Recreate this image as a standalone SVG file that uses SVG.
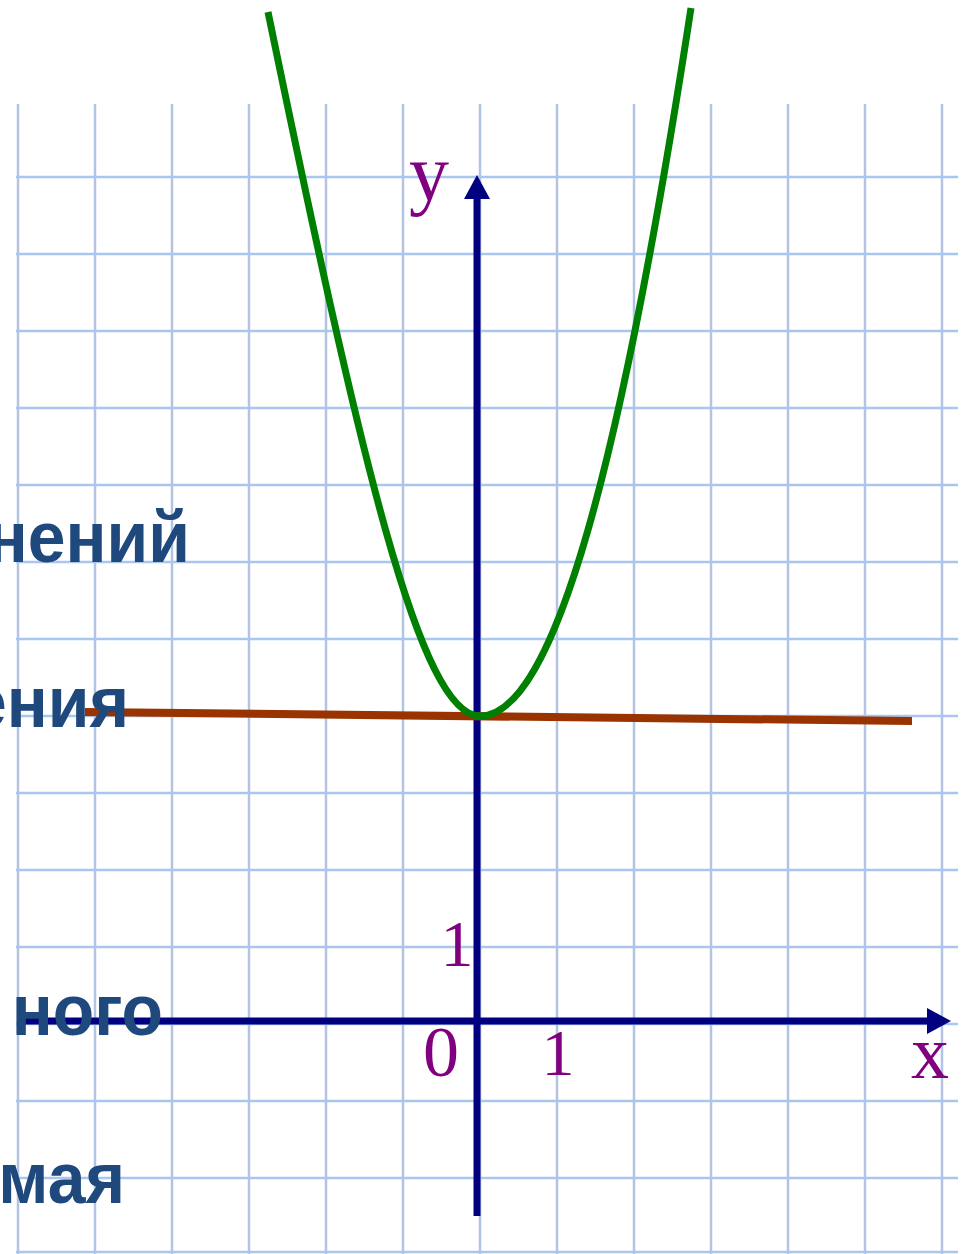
<svg xmlns="http://www.w3.org/2000/svg" width="961" height="1254" viewBox="0 0 961 1254">
<style>
.gv{stroke:#b3c3e4;stroke-width:2.5}
.gh{stroke:#a9c6f0;stroke-width:2.5}
.ax{stroke:#000080;stroke-width:7;fill:none}
.lbl{font-family:"Liberation Serif",serif;fill:#800080;text-anchor:middle}
.txt{font-family:"Liberation Sans",Arial,sans-serif;font-weight:bold;fill:#1F497D;text-anchor:end;font-size:73px}
</style>
<rect width="961" height="1254" fill="#ffffff"/>
<g id="grid">
<g class="gv">
<line x1="18" y1="104" x2="18" y2="1254"/>
<line x1="95" y1="104" x2="95" y2="1254"/>
<line x1="172" y1="104" x2="172" y2="1254"/>
<line x1="249" y1="104" x2="249" y2="1254"/>
<line x1="326" y1="104" x2="326" y2="1254"/>
<line x1="403" y1="104" x2="403" y2="1254"/>
<line x1="480" y1="104" x2="480" y2="1254"/>
<line x1="557" y1="104" x2="557" y2="1254"/>
<line x1="634" y1="104" x2="634" y2="1254"/>
<line x1="711" y1="104" x2="711" y2="1254"/>
<line x1="788" y1="104" x2="788" y2="1254"/>
<line x1="865" y1="104" x2="865" y2="1254"/>
<line x1="942" y1="104" x2="942" y2="1254"/>
</g>
<g class="gh">
<line x1="16" y1="177" x2="958" y2="177"/>
<line x1="16" y1="254" x2="958" y2="254"/>
<line x1="16" y1="331" x2="958" y2="331"/>
<line x1="16" y1="408" x2="958" y2="408"/>
<line x1="16" y1="485" x2="958" y2="485"/>
<line x1="16" y1="562" x2="958" y2="562"/>
<line x1="16" y1="639" x2="958" y2="639"/>
<line x1="16" y1="716" x2="958" y2="716"/>
<line x1="16" y1="793" x2="958" y2="793"/>
<line x1="16" y1="870" x2="958" y2="870"/>
<line x1="16" y1="947" x2="958" y2="947"/>
<line x1="16" y1="1024" x2="958" y2="1024"/>
<line x1="16" y1="1101" x2="958" y2="1101"/>
<line x1="16" y1="1178" x2="958" y2="1178"/>
<line x1="16" y1="1252" x2="958" y2="1252"/>
</g>
</g>
<g id="connectors">
<g id="y-axis">
<line class="ax" x1="477" y1="1216" x2="477" y2="196"/>
<polygon points="477,175 464,199 490,199" fill="#000080"/>
</g>
<g id="x-axis">
<line class="ax" x1="20" y1="1021" x2="930" y2="1021"/>
<polygon points="951,1021 927,1008 927,1034" fill="#000080"/>
</g>
<g id="tangent">
<line x1="85" y1="712" x2="912" y2="721" stroke="#993300" stroke-width="8"/>
</g>
<g id="parabola">
<path d="M268,12 C361,462 420,716 480,716 C555,716 622,458 691,8" stroke="#008000" stroke-width="7" fill="none"/>
</g>
</g>
<g id="labels">
<text class="lbl" x="429" y="200" font-size="80">y</text>
<text class="lbl" x="457" y="966" font-size="66">1</text>
<text class="lbl" x="441" y="1076" font-size="72">0</text>
<text class="lbl" x="558" y="1075" font-size="66">1</text>
<text class="lbl" x="930" y="1078" font-size="76">x</text>
</g>
<g id="text">
<text class="txt" transform="translate(190,562) scale(0.93,1)">нений</text>
<text class="txt" transform="translate(129,727) scale(0.93,1)">ения</text>
<text class="txt" transform="translate(163,1035) scale(0.93,1)">ного</text>
<text class="txt" transform="translate(125,1203) scale(0.93,1)">мая</text>
</g>
</svg>
